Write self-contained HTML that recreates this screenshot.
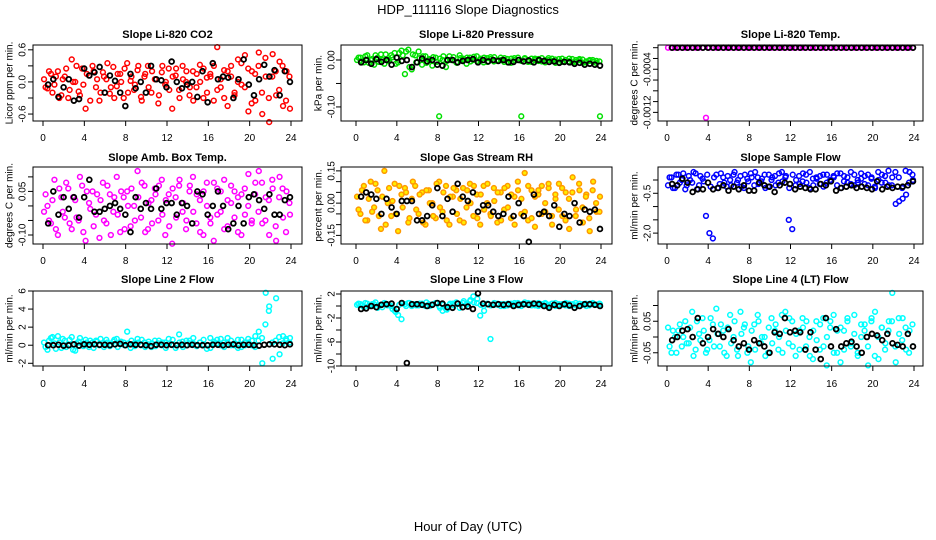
<!DOCTYPE html>
<html><head><meta charset="utf-8"><style>
html,body{margin:0;padding:0;background:#fff;}
svg{display:block;font-family:"Liberation Sans",sans-serif;}
</style></head><body>
<svg id="fig" width="936" height="540" viewBox="0 0 936 540">
<text x="468" y="14" text-anchor="middle" font-size="13">HDP_111116  Slope Diagnostics</text>
<text x="468" y="531" text-anchor="middle" font-size="13">Hour of Day (UTC)</text>
</svg>
<script>
const xTicks=[0,4,8,12,16,20,24];
const co2Col=[0.05,-0.12,0.15,-0.05,0.2,-0.25,0.1,-0.3,0.42,0.0,-0.18,0.25,-0.5,0.12,0.3,-0.1,-0.35,0.18,0.05,-0.22,0.28,-0.08,0.15,-0.3,0.35,0.02,-0.15,0.22,-0.28,0.1,0.3,-0.2,0.05,-0.4,0.18,-0.05,0.25,-0.5,0.12,-0.15,0.3,0.0,-0.25,0.2,-0.1,0.32,-0.3,0.08,0.15,-0.35,0.65,-0.1,0.22,-0.45,0.3,-0.2,0.42,-0.05,0.5,-0.55,0.2,-0.35,0.55,-0.6,0.1,-0.75,0.52,-0.25,0.38,-0.45,0.2,-0.5];
const co2Col2=[-0.1,0.2,-0.2,0.1,-0.3,0.05,0.25,-0.15,0.0,0.3,-0.25,-0.05,0.15,-0.35,0.2,0.05,-0.2,0.1,0.35,-0.1,-0.3,0.15,0.0,0.25,-0.2,0.1,-0.05,0.3,-0.35,0.15,-0.1,0.2,0.05,-0.25,0.3,0.0,-0.15,0.1,0.25,-0.3,0.05,0.2,-0.1,-0.35,0.15,0.0,0.25,-0.2,0.1,0.3,-0.15,0.05,-0.3,0.2,0.1,-0.25,0.0,0.35,-0.1,0.25,-0.4,0.15,0.3,-0.2,0.45,-0.3,0.1,0.2,-0.15,0.3,-0.35,0.1];
const co2Blk=[-0.05,0.05,-0.28,-0.1,0.05,-0.35,-0.32,0.25,0.12,0.18,0.28,-0.2,0.12,0.02,-0.2,-0.45,0.15,-0.12,0.0,-0.2,0.3,0.05,0.03,-0.1,0.38,0.0,-0.12,-0.05,0.0,-0.28,0.2,-0.38,0.35,0.05,0.1,0.08,-0.3,0.05,0.42,-0.05,-0.25,0.05,0.32,0.1,0.22,-0.25,0.2,0.0];
const presCol=[0.0,0.005,-0.005,0.01,0.0,-0.01,0.005,0.012,-0.008,0.0,0.01,0.015,-0.005,0.02,-0.03,0.022,-0.02,0.01,0.018,-0.01,0.008,0.0,-0.012,0.005,-0.12,0.0,-0.015,0.008,0.0,-0.005,0.01,0.003,-0.008,0.005,0.0,0.008,0.0,-0.005,0.004,0.006,-0.003,0.0,0.005,-0.004,0.002,-0.006,0.004,0.0,-0.12,0.002,-0.004,0.003,0.0,-0.002,0.004,-0.005,0.0,0.003,-0.006,0.002,-0.004,0.0,0.003,-0.005,0.0,0.002,-0.006,-0.003,0.0,-0.004,-0.002,-0.12];
const presCol2=[0.005,-0.003,0.008,-0.006,0.002,0.01,-0.004,0.0,0.012,-0.002,0.006,-0.008,0.015,0.01,0.018,-0.015,0.012,-0.005,0.004,0.008,-0.006,0.002,0.006,-0.004,0.003,0.008,-0.002,0.0,0.006,-0.006,0.004,0.0,0.005,-0.003,0.007,-0.002,0.003,0.005,-0.004,0.002,0.006,-0.002,0.0,0.004,-0.005,0.003,0.0,0.005,-0.002,0.004,0.0,-0.004,0.003,0.002,-0.003,0.0,0.004,-0.002,0.001,-0.005,0.003,0.0,-0.003,0.002,-0.004,0.0,0.001,-0.005,-0.002,0.0,-0.006,-0.003];
const presBlk=[-0.005,0.0,-0.008,0.002,-0.004,0.0,-0.01,0.005,-0.002,0.0,-0.015,-0.005,0.003,-0.003,0.0,-0.01,-0.012,0.0,0.0,-0.005,-0.002,0.0,0.002,-0.005,0.0,-0.003,0.0,-0.002,0.0,-0.005,-0.004,0.0,-0.003,-0.001,-0.005,0.0,-0.002,-0.004,-0.003,-0.006,-0.004,-0.005,-0.008,-0.006,-0.01,-0.008,-0.01,-0.012];
const tempCol=[0,0,0,0,0,0,0,0,0,0,0,-0.0013,0,0,0,0,0,0,0,0,0,0,0,0,0,0,0,0,0,0,0,0,0,0,0,0,0,0,0,0,0,0,0,0,0,0,0,0,0,0,0,0,0,0,0,0,0,0,0,0,0,0,0,0,0,0,0,0,0,0,0,0];
const tempCol2=[];
const tempBlk=[0,0,0,0,0,0,0,0,0,0,0,0,0,0,0,0,0,0,0,0,0,0,0,0,0,0,0,0,0,0,0,0,0,0,0,0,0,0,0,0,0,0,0,0,0,0,0,0];
const ambCol=[-0.02,0.0,-0.06,0.09,-0.1,0.03,-0.04,0.06,-0.08,0.02,-0.05,0.07,-0.12,0.01,0.05,-0.03,-0.11,0.08,-0.06,0.04,-0.02,0.1,-0.09,0.03,0.05,-0.07,0.0,0.12,-0.04,0.07,-0.08,0.02,0.06,-0.05,0.09,-0.1,0.04,-0.13,0.03,0.07,-0.02,-0.08,0.05,0.1,-0.06,0.02,-0.1,0.08,-0.04,-0.12,0.06,-0.02,0.09,-0.07,0.01,0.05,-0.09,0.04,-0.03,0.11,-0.05,0.08,0.12,-0.06,0.03,-0.1,0.06,-0.12,0.1,-0.04,0.05,-0.03];
const ambCol2=[0.04,-0.05,0.02,-0.08,0.06,-0.02,0.08,-0.06,0.03,-0.04,0.1,-0.09,0.05,-0.01,-0.07,0.04,0.02,-0.05,0.07,-0.1,0.03,-0.03,0.05,-0.08,0.0,0.06,-0.05,0.03,0.08,-0.09,0.01,-0.06,0.04,0.07,-0.03,0.02,-0.07,0.06,-0.04,0.09,0.01,-0.05,0.07,-0.02,0.04,-0.09,0.05,0.0,-0.06,0.08,-0.03,0.05,-0.08,0.02,0.07,-0.04,0.03,-0.1,0.06,0.0,-0.06,0.04,-0.02,0.08,-0.05,0.02,0.09,-0.07,0.03,0.06,-0.09,0.01];
const ambBlk=[-0.06,0.05,-0.03,0.03,-0.01,0.03,-0.04,0.03,0.09,-0.02,-0.02,-0.01,0.0,0.01,-0.01,-0.03,-0.09,0.03,-0.01,0.01,-0.01,0.06,-0.01,0.01,0.01,-0.03,0.01,0.0,-0.06,0.05,0.04,-0.03,0.0,0.05,0.0,-0.08,-0.06,0.0,-0.06,0.03,0.04,0.02,-0.01,0.04,-0.03,-0.03,0.02,0.03];
const rhCol=[0.03,-0.05,0.08,-0.08,0.1,-0.02,0.06,-0.12,0.15,0.0,-0.06,0.09,-0.13,0.04,0.07,-0.09,0.02,0.08,-0.05,0.05,-0.1,0.06,0.0,-0.07,0.1,-0.04,0.08,-0.1,0.03,0.06,-0.08,0.07,-0.02,0.09,-0.06,0.04,-0.1,0.08,0.0,-0.05,0.07,-0.09,0.05,-0.03,0.08,-0.07,0.03,0.1,-0.05,0.14,-0.08,0.06,-0.11,0.04,0.08,-0.04,0.07,-0.1,0.02,0.09,-0.06,0.05,-0.12,0.12,-0.03,0.06,-0.09,0.04,-0.13,0.1,-0.04,0.03];
const rhCol2=[-0.03,0.06,-0.08,0.02,-0.04,0.09,-0.06,0.03,-0.1,0.07,0.01,-0.05,0.08,-0.02,0.05,-0.07,0.1,-0.03,0.04,-0.09,0.06,0.0,-0.06,0.09,-0.02,0.05,-0.08,0.03,0.07,-0.05,0.02,-0.09,0.06,0.0,0.08,-0.07,0.04,-0.03,0.09,-0.06,0.01,0.05,-0.08,0.07,-0.02,0.04,-0.1,0.06,0.02,-0.04,0.08,-0.07,0.03,0.06,-0.05,0.0,0.09,-0.06,0.04,-0.03,0.07,-0.08,0.02,0.05,-0.06,0.09,-0.02,0.03,-0.07,0.06,0.0,-0.04];
const rhBlk=[0.03,0.05,0.04,0.02,-0.05,0.02,-0.02,-0.05,0.01,0.01,0.01,-0.08,-0.08,-0.06,-0.01,0.07,-0.06,0.02,-0.04,0.09,0.03,0.01,0.05,-0.04,-0.01,-0.01,-0.04,-0.06,-0.05,0.03,-0.06,0.0,-0.06,-0.18,0.04,-0.05,-0.04,-0.06,-0.01,-0.11,-0.05,-0.06,0.0,-0.09,-0.03,-0.04,-0.03,-0.12];
const flowCol=[-0.2,0.1,-0.3,0.2,0.0,-0.35,0.15,-0.1,0.25,-0.2,0.05,-1.35,-2.0,-2.2,0.2,-0.15,0.1,-0.25,0.0,0.2,-0.1,0.15,-0.3,0.05,0.25,-0.2,0.1,-0.05,0.2,-0.25,0.0,0.15,-0.1,0.3,0.1,-1.5,-1.85,-0.2,0.15,-0.05,0.2,-0.3,0.05,0.1,-0.15,0.2,-0.1,0.0,0.15,-0.2,0.25,-0.05,0.1,-0.15,0.2,-0.1,0.05,0.15,-0.2,0.1,-0.3,0.0,0.2,-0.1,-0.2,0.1,-0.9,-0.8,-0.7,-0.55,0.3,0.0];
const flowCol2=[0.1,-0.3,0.2,-0.1,0.25,-0.2,0.0,0.3,-0.35,0.15,-0.05,0.2,-0.25,0.1,-0.3,0.25,-0.1,0.15,-0.2,0.3,0.0,-0.25,0.2,-0.05,0.1,0.3,-0.15,0.05,-0.3,0.2,0.1,-0.2,0.25,-0.05,0.15,-0.3,0.2,0.0,-0.15,0.25,-0.1,0.3,-0.2,0.05,0.15,-0.25,0.2,-0.05,0.1,0.25,-0.3,0.15,-0.1,0.3,-0.2,0.0,0.25,-0.15,0.2,0.05,-0.25,0.3,-0.1,0.15,0.35,-0.2,0.3,0.1,-0.3,0.35,-0.1,0.2];
const flowBlk=[-0.15,-0.2,0.05,-0.1,-0.45,-0.35,-0.35,-0.1,-0.35,-0.3,-0.2,-0.4,-0.25,-0.35,-0.2,-0.4,-0.4,-0.1,-0.2,-0.25,-0.45,-0.2,-0.1,-0.15,-0.35,-0.25,-0.3,-0.35,-0.35,-0.15,-0.2,-0.05,-0.4,-0.3,-0.25,-0.2,-0.3,-0.25,-0.3,-0.35,-0.05,-0.35,-0.25,-0.3,-0.25,-0.25,-0.2,-0.05];
const l2Col=[0.3,-0.5,0.8,0.2,1.0,-0.3,0.5,0.0,0.9,-0.6,0.4,0.1,0.6,-0.2,0.3,0.5,0.0,0.2,0.6,-0.1,0.4,0.7,0.1,0.3,1.5,-0.3,0.2,0.7,0.0,0.3,0.1,-0.2,0.5,0.2,0.0,0.3,0.7,0.1,-0.3,1.2,0.4,0.0,0.5,0.2,0.0,0.3,0.1,-0.4,0.8,0.2,0.6,0.0,0.3,0.8,0.0,0.2,-0.3,0.6,0.0,0.3,0.5,1.0,1.5,-2.0,5.8,4.3,-1.5,5.2,-1.0,1.0,0.5,0.8];
const l2Col2=[-0.2,0.5,0.9,-0.4,0.3,0.7,-0.2,0.6,-0.5,0.2,0.8,-0.1,0.3,0.5,-0.3,0.4,0.7,-0.2,0.3,0.1,0.6,-0.2,0.4,0.0,0.2,0.5,-0.1,0.3,0.6,-0.2,0.4,0.2,-0.1,0.5,0.3,-0.3,0.2,0.6,0.0,0.3,-0.2,0.5,0.2,0.8,-0.1,0.3,0.6,0.0,-0.3,0.4,0.2,0.7,-0.2,0.3,0.5,0.0,0.6,-0.2,0.3,0.7,0.0,-0.2,0.5,0.8,2.3,3.8,0.3,0.5,0.9,0.2,0.7,0.3];
const l2Blk=[0.0,0.0,0.05,-0.05,0.0,0.1,-0.05,0.1,0.05,0.1,0.05,0.05,0.0,0.1,0.15,0.0,0.1,0.05,0.05,0.0,-0.1,0.05,0.05,0.0,0.05,0.0,0.05,0.0,0.05,0.0,0.0,0.0,0.05,0.05,0.0,0.05,0.1,0.0,0.05,0.05,0.0,-0.05,0.05,0.1,0.1,0.05,0.0,0.1];
const l3Col=[0.2,0.3,-0.2,0.4,0.0,0.3,-0.3,0.2,0.5,0.1,0.0,-0.8,-1.5,-2.2,0.3,0.5,0.0,0.3,0.1,0.4,0.0,0.3,0.2,0.5,0.0,-0.8,-0.5,0.2,0.4,0.6,-0.3,0.5,0.2,0.8,1.6,0.5,-1.6,0.0,0.3,-5.5,0.2,0.4,0.0,0.3,0.1,0.4,0.2,0.5,0.0,0.3,0.5,0.1,0.4,0.0,0.3,0.5,0.2,0.4,0.0,0.3,0.2,0.5,0.0,0.3,0.1,0.4,0.2,0.0,0.4,0.3,0.2,0.3];
const l3Col2=[0.4,0.1,0.5,0.0,0.3,0.6,0.1,-0.2,0.4,0.2,-0.5,-1.0,0.2,0.4,0.0,0.5,0.3,0.1,0.4,0.2,0.6,0.0,0.3,0.5,-0.3,0.2,-0.6,0.4,0.1,0.5,0.3,0.8,0.4,1.0,0.6,1.2,0.2,-0.8,0.4,0.1,0.5,0.2,0.3,0.0,0.4,0.2,0.5,0.1,0.3,0.6,0.2,0.4,0.1,0.5,0.2,0.3,0.0,0.4,0.5,0.2,0.3,0.1,0.4,0.2,0.5,0.0,0.3,0.4,0.1,0.5,0.2,0.4];
const l3Blk=[-0.5,-0.4,0.0,-0.2,0.2,0.3,0.4,-0.5,0.5,-9.5,0.3,0.3,0.2,0.0,0.2,0.5,0.4,-0.2,-0.3,0.4,-0.2,-0.1,-0.5,2.1,0.4,0.3,0.2,0.3,0.2,0.3,0.0,0.2,0.3,0.2,0.4,0.3,0.0,-0.3,0.2,0.0,0.3,0.1,-0.3,0.0,0.3,0.3,0.2,0.0];
const l4Col=[0.03,-0.05,0.0,0.02,-0.03,0.05,-0.02,0.08,-0.04,0.01,0.06,-0.05,-0.01,0.04,0.09,-0.03,0.02,-0.06,0.07,0.0,-0.04,0.08,0.03,-0.05,-0.08,0.04,0.07,-0.02,0.0,-0.05,0.06,0.02,-0.04,0.07,0.08,-0.02,0.05,-0.06,0.02,0.06,-0.03,0.0,-0.07,0.05,-0.04,0.06,-0.09,0.03,0.07,-0.05,-0.08,0.02,0.05,-0.03,0.07,-0.06,0.0,0.04,-0.09,0.06,0.08,-0.07,0.03,-0.02,0.05,0.14,-0.08,0.01,0.06,-0.04,0.02,-0.03];
const l4Col2=[-0.03,0.02,-0.05,0.04,0.0,-0.02,0.03,-0.06,0.05,-0.01,0.02,-0.04,0.06,-0.03,0.01,0.04,-0.05,0.03,-0.02,0.05,-0.06,0.01,0.04,-0.03,0.02,-0.04,0.05,0.0,-0.06,0.03,-0.02,0.04,0.0,-0.05,0.02,0.06,-0.03,0.01,-0.04,0.03,0.05,-0.06,0.02,-0.01,0.04,-0.03,0.0,0.05,-0.05,0.02,0.03,-0.04,0.06,-0.02,0.01,-0.05,0.04,0.02,-0.03,0.05,-0.06,0.0,0.03,-0.04,0.02,0.05,-0.03,0.06,-0.01,0.03,-0.05,0.04];
const l4Blk=[-0.01,0.0,0.02,0.025,0.0,0.06,-0.02,0.0,0.025,0.01,0.0,0.025,-0.01,-0.03,-0.02,-0.04,-0.01,-0.02,-0.03,-0.05,0.015,0.01,0.06,0.015,0.02,0.015,-0.04,0.015,-0.04,-0.07,0.06,-0.03,0.025,-0.03,-0.02,-0.015,-0.03,-0.05,0.0,0.01,0.005,-0.01,0.01,-0.02,-0.025,-0.03,0.01,-0.03];

const NS='http://www.w3.org/2000/svg';
const svg=document.getElementById('fig');
function mk(tag,attrs,parent){const e=document.createElementNS(NS,tag);for(const k in attrs)e.setAttribute(k,attrs[k]);(parent||svg).appendChild(e);return e;}
const cols=[{l:33,r:302,x0:43,x24:291,yl:9,tl:22},{l:341,r:612,x0:356,x24:601,yl:318,tl:331},{l:658,r:923,x0:667,x24:914,yl:634,tl:647}];
const rows=[{t:45,b:121,title:34,xl:141},{t:167,b:244,title:157,xl:264},{t:291,b:366,title:279,xl:387}];
const panels=[
 {name:'co2',title:'Slope Li-820 CO2',ylab:'Licor ppm per min.',c:0,r:0,ymin:-0.73,ymax:0.69,ticks:[-0.6,-0.3,0,0.3,0.6],labels:{'-0.6':'-0.6','0':'0.0','0.6':'0.6'},col:'#ff0000',colData:co2Col,colData2:co2Col2,blkData:co2Blk},
 {name:'pressure',title:'Slope Li-820 Pressure',ylab:'kPa per min.',c:1,r:0,ymin:-0.13,ymax:0.032,ticks:[-0.1,-0.05,0],labels:{'-0.1':'-0.10','0':'0.00'},col:'#00e000',colData:presCol,colData2:presCol2,blkData:presBlk},
 {name:'temp',title:'Slope Li-820 Temp.',ylab:'degrees C per min.',c:2,r:0,ymin:-0.00136,ymax:0.00005,ticks:[0,-0.0002,-0.0004,-0.0006,-0.0008,-0.001,-0.0012],labels:{'-0.0004':'-0.0004','-0.0012':'-0.0012'},col:'#ff00ff',colData:tempCol,colData2:tempCol2,blkData:tempBlk},
 {name:'amb-temp',title:'Slope Amb. Box Temp.',ylab:'degrees C per min.',c:0,r:1,ymin:-0.131,ymax:0.134,ticks:[-0.1,-0.05,0,0.05,0.1],labels:{'-0.1':'-0.10','0.05':'0.05'},col:'#ff00ff',colData:ambCol,colData2:ambCol2,blkData:ambBlk},
 {name:'rh',title:'Slope Gas Stream RH',ylab:'percent per min.',c:1,r:1,ymin:-0.19,ymax:0.168,ticks:[-0.15,-0.1,-0.05,0,0.05,0.1,0.15],labels:{'-0.15':'-0.15','0':'0.00','0.15':'0.15'},col:'#ff9900',fill:'#ffee00',colData:rhCol,colData2:rhCol2,blkData:rhBlk},
 {name:'sample-flow',title:'Slope Sample Flow',ylab:'ml/min per min.',c:2,r:1,ymin:-2.41,ymax:0.49,ticks:[-2,-1.5,-1,-0.5,0],labels:{'-2':'-2.0','-0.5':'-0.5'},col:'#0000ff',colData:flowCol,colData2:flowCol2,blkData:flowBlk},
 {name:'line2-flow',title:'Slope Line 2 Flow',ylab:'ml/min per min.',c:0,r:2,ymin:-2.3,ymax:6.0,ticks:[-2,0,2,4,6],labels:{'-2':'-2','0':'0','2':'2','4':'4','6':'6'},col:'#00ffff',colData:l2Col,colData2:l2Col2,blkData:l2Blk},
 {name:'line3-flow',title:'Slope Line 3 Flow',ylab:'ml/min per min.',c:1,r:2,ymin:-10,ymax:2.5,ticks:[-10,-8,-6,-4,-2,0,2],labels:{'-10':'-10','-6':'-6','-2':'-2','2':'2'},col:'#00ffff',colData:l3Col,colData2:l3Col2,blkData:l3Blk},
 {name:'line4-flow',title:'Slope Line 4 (LT) Flow',ylab:'ml/min per min.',c:2,r:2,ymin:-0.092,ymax:0.146,ticks:[-0.05,0,0.05,0.1],labels:{'-0.05':'-0.05','0.05':'0.05'},col:'#00ffff',colData:l4Col,colData2:l4Col2,blkData:l4Blk}
];
panels.forEach(p=>{
 const C=cols[p.c],R=rows[p.r];
 const g=mk('g',{});
 
 
 const xs=h=>C.x0+(C.x24-C.x0)*h/24;
 const ys=v=>R.b-(v-p.ymin)/(p.ymax-p.ymin)*(R.b-R.t);
 const t=mk('text',{x:(C.l+C.r)/2,y:R.title+4,'text-anchor':'middle','font-size':11,'font-weight':'bold'},g);
 t.textContent=p.title;
 
 
 const yl=mk('text',{x:C.yl,y:(R.t+R.b)/2,'text-anchor':'middle','font-size':10,transform:`rotate(-90 ${C.yl} ${(R.t+R.b)/2})`,dy:'0.35em'},g);
 yl.textContent=p.ylab;
 
 
 const pts=mk('g',{},g);
 
 
 const drawCol=(arr,off,span)=>{
  const n=arr.length;
  arr.forEach((v,i)=>{
   const y=ys(v); if(y<R.t-3||y>R.b+3) return;
   const c=mk('circle',{cx:xs(off+i*span/(n-1)),cy:y,r:2.4,fill:p.fill||'none',stroke:p.col,'stroke-width':1.5},pts);
   
   
  });
 };
 drawCol(p.colData,0.1,23.8);
 drawCol(p.colData2,0.25,23.6);
 const m=p.blkData.length;
 const bp=mk('g',{},g);
 
 
 p.blkData.forEach((v,i)=>{
  const y=ys(v); if(y<R.t-3||y>R.b+3) return;
  const c=mk('circle',{cx:xs(0.5+i*23.4/(m-1)),cy:y,r:2.4,fill:'none',stroke:'#000','stroke-width':1.8},bp);
  
  
 });
 const box=mk('rect',{x:C.l,y:R.t,width:C.r-C.l,height:R.b-R.t,fill:'none',stroke:'#000','stroke-width':1},g);
 
 
 xTicks.forEach(h=>{
  mk('line',{x1:xs(h),x2:xs(h),y1:R.b,y2:R.b+5,stroke:'#000'},g);
  const tl=mk('text',{x:xs(h),y:R.xl,'text-anchor':'middle','font-size':10},g);
  tl.textContent=h;
  
  
 });
 p.ticks.forEach(v=>{
  const y=ys(v);
  mk('line',{x1:C.l-5,x2:C.l,y1:y,y2:y,stroke:'#000'},g);
  const lab=p.labels[String(v)];
  if(lab){
   const tl=mk('text',{x:C.tl,y:y,'text-anchor':'middle','font-size':10,transform:`rotate(-90 ${C.tl} ${y})`,dy:'0.35em'},g);
   tl.textContent=lab;
   
   
  }
 });
});
</script>
</body></html>
